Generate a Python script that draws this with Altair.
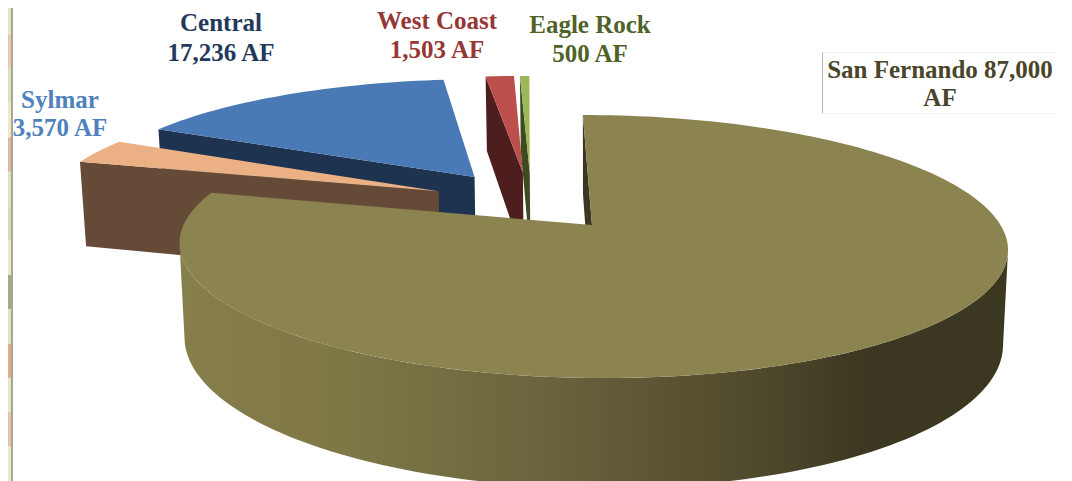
import math
import altair as alt

# ---- data ----
names = ["San Fernando", "Sylmar", "Central", "West Coast", "Eagle Rock"]
values = [87000, 3570, 17236, 1503, 500]

top_colors = ["#8B8350", "#EBB184", "#4A7AB5", "#BC4F4C", "#9AB858"]
wall_colors = ["#3B3720", "#654B37", "#1E3350", "#4E1E1E", "#3E4A20"]
# slice displacement on the disc (sideways, backwards)
offsets = [(0, 0), (-0.385, 0.275), (-0.296, 0.40), (-0.17, 0.44), (-0.152, 0.44)]
draw_order = [3, 4, 2, 1, 0]

label_lines = [
    (["Central", "17,236 AF"], "#23395B", 221, [23, 53]),
    (["Sylmar", "3,570 AF"], "#4F81BD", 60, [100, 128]),
    (["West Coast", "1,503 AF"], "#953735", 437, [21, 50]),
    (["Eagle Rock", "500 AF"], "#4F6228", 590, [25, 54]),
    (["San Fernando 87,000", "AF"], "#4A452A", 940, [70, 98]),
]

strip_colors = ["#E6E3C0", "#E8C9A8", "#DDE0B8", "#EFE9CC", "#E3B79A", "#DFE2BC", "#D9D6BC",
                "#EDE7C6", "#A9A68F", "#E2E4BE", "#E5A98C", "#E8E6C4", "#E6C2A6", "#ECE9CC"]

# ---- projection of the tilted disc ----
CX, CY, RX, RY, D, SHEAR, THICK, SHRINK = 592, 225, 408.5, 128, 6.1, 0.083, 92, 0.012


def project(u, v, z=0.0):
    s = D / (D + v)
    y0 = CY - RY * v * s
    x = CX + RX * u * s + SHEAR * (y0 - CY)
    x = CX + (x - CX) * (1 - SHRINK * z)
    return [round(x, 2), round(y0 + THICK * s * z, 2)]


def rim(angle, off, z=0.0):
    a = math.radians(angle)
    return project(math.sin(a) + off[0], math.cos(a) + off[1], z)


def arc(a0, a1, off, z=0.0):
    n = max(2, int(abs(a1 - a0) / 1.5))
    return [rim(a0 + (a1 - a0) * i / n, off, z) for i in range(n + 1)]


def shape(points, name):
    ring = points + [points[0]]
    return alt.Data(values=[{"type": "Feature", "properties": {"name": name},
                             "geometry": {"type": "Polygon", "coordinates": [ring]}}])


def poly(points, name, fill):
    return alt.Chart(shape(points, name)).mark_geoshape(fill=fill, strokeWidth=0).project(
        type="identity", scale=1, translate=[-8, -8])


total = sum(values)
angles = [0]
for val in values:
    angles.append(angles[-1] + val / total * 360)

# the disc's silhouette: where its outline is widest on each side
sweep = [a / 4 for a in range(0, 1440)]
right_end = max(sweep, key=lambda a: rim(a, (0, 0))[0])
left_end = min(sweep, key=lambda a: rim(a, (0, 0))[0])

wall_gradient = alt.LinearGradient(
    gradient="linear", x1=0, x2=1, y1=0, y2=0,
    stops=[
        alt.GradientStop(color="#867F4C", offset=0.0),
        alt.GradientStop(color="#7E7746", offset=0.2),
        alt.GradientStop(color="#6E673F", offset=0.4),
        alt.GradientStop(color="#5F5836", offset=0.55),
        alt.GradientStop(color="#4F492C", offset=0.7),
        alt.GradientStop(color="#3B3720", offset=0.83),
        alt.GradientStop(color="#3B3720", offset=1.0),
    ],
)

layers = []

# map strip at the left edge of the slide
n_strip = len(strip_colors)
for i, col in enumerate(strip_colors):
    y0, y1 = 481 * i / n_strip, 481 * (i + 1) / n_strip
    layers.append(poly([[8, y0], [11, y0], [11, y1], [8, y1]], "map", col))
layers.append(poly([[11, 0], [13, 0], [13, 481], [11, 481]], "map edge", "#A8A795"))

for i in draw_order:
    off = offsets[i]
    a0, a1 = angles[i], angles[i + 1]
    start_wall = [rim(a0, off), rim(a0, off, 1), project(off[0], off[1], 1), project(off[0], off[1])]
    if i == 0:
        layers.append(poly(arc(right_end, left_end, off) + arc(left_end, right_end, off, 1),
                           names[i] + " rim", wall_gradient))
    layers.append(poly(start_wall, names[i] + " cut", wall_colors[i]))
    layers.append(poly(arc(a0, a1, off) + [project(off[0], off[1])], names[i], top_colors[i]))

# frame of the San Fernando label
for xa, xb, ya, yb, col in [(822, 822, 52, 113, "#B5B5B5"), (822, 1056, 52, 52, "#EEEEEE"), (822, 1056, 113, 113, "#F4F4F4")]:
    layers.append(alt.Chart(alt.Data(values=[{"k": 1}])).mark_rule(color=col, strokeWidth=1).encode(
        x=alt.value(xa - 7.5), x2=alt.value(xb - 7.5), y=alt.value(ya - 7.5), y2=alt.value(yb - 7.5)))

for lines, col, xc, ys in label_lines:
    for line, yc in zip(lines, ys):
        layers.append(alt.Chart(alt.Data(values=[{"label": line}])).mark_text(
            font="Liberation Serif", fontWeight="bold", fontSize=25, color=col,
            align="center", baseline="middle").encode(
            text="label:N", x=alt.value(xc - 8), y=alt.value(yc - 8)))

chart = alt.layer(*layers).properties(
    width=1056, height=473, padding=0,
    autosize=alt.AutoSizeParams(type="none"),
).configure_view(stroke=None)

chart.save("out.html", embed_options={"renderer": "svg", "actions": False})
